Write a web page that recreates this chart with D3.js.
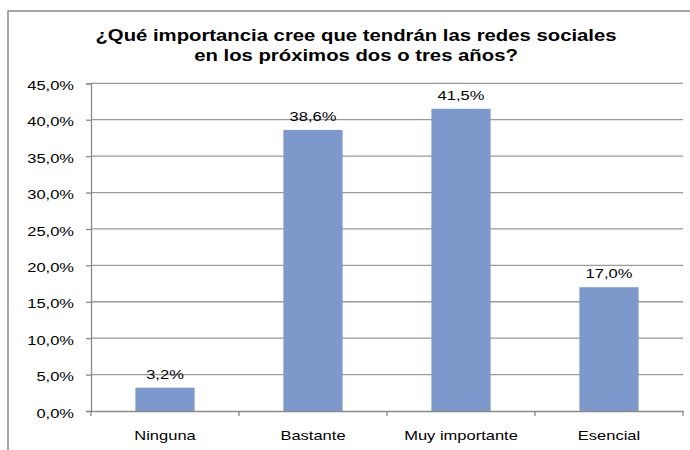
<!DOCTYPE html>
<html>
<head>
<meta charset="utf-8">
<script src="https://cdn.jsdelivr.net/npm/d3@7"></script>
<style>
  html, body { margin: 0; padding: 0; background: #fff; }
  svg { display: block; }
  text { font-family: "Liberation Sans", Arial, sans-serif; fill: #000; }
</style>
</head>
<body>
<svg id="chart" width="690" height="450"></svg>
<script>
// Survey answers and their shares (%)
const categories = ["Ninguna", "Bastante", "Muy importante", "Esencial"];
const values = [3.2, 38.6, 41.5, 17.0];
const yTicks = [0, 5, 10, 15, 20, 25, 30, 35, 40, 45];
const titleLines = [
  "¿Qué importancia cree que tendrán las redes sociales",
  "en los próximos dos o tres años?"
];

const W = 690, H = 450;
const plot = { left: 91, right: 683, top: 83.3, bottom: 411 };
const stretch = 1.27; // glyphs are drawn a little wider than tall
const fmt = v => v.toFixed(1).replace(".", ",") + "%";

const svg = d3.select("#chart");

// outer frame
svg.append("rect")
  .attr("x", 8).attr("y", 11)
  .attr("width", W).attr("height", H)
  .attr("fill", "#fff")
  .attr("stroke", "#8a8a8a").attr("stroke-width", 1.5);

const x = d3.scaleBand().domain(categories)
  .range([plot.left, plot.right]).paddingInner(0).paddingOuter(0);
const y = d3.scaleLinear().domain([0, 45]).range([plot.bottom, plot.top]);

// helper for horizontally stretched labels
function label(g, tx, ty, str, anchor, size, weight) {
  return g.append("text")
    .attr("transform", `translate(${tx},${ty}) scale(${stretch},1)`)
    .attr("text-anchor", anchor)
    .attr("font-size", size)
    .attr("font-weight", weight || "normal")
    .text(str);
}

// gridlines
svg.append("g").selectAll("line")
  .data(yTicks.filter(t => t > 0))
  .join("line")
  .attr("x1", plot.left).attr("x2", plot.right)
  .attr("y1", d => y(d)).attr("y2", d => y(d))
  .attr("stroke", "#9a9a9a").attr("stroke-width", 1.3);

// y axis
const yAxis = svg.append("g")
  .attr("transform", `translate(${plot.left},0)`)
  .call(d3.axisLeft(y).tickValues(yTicks).tickSize(5).tickFormat(""));
yAxis.selectAll("path, line").attr("stroke", "#8a8a8a").attr("stroke-width", 1.3);
const yLab = svg.append("g");
yTicks.forEach(t => label(yLab, 74, y(t) + 6.7, fmt(t), "end", 13));

// bars
const barW = x.bandwidth() * 0.4;
svg.append("g").selectAll("rect")
  .data(values)
  .join("rect")
  .attr("x", (d, i) => x(categories[i]) + (x.bandwidth() - barW) / 2)
  .attr("width", barW)
  .attr("y", d => y(d))
  .attr("height", d => y(0) - y(d))
  .attr("fill", "#7d98cb");

// x axis
const xAxis = svg.append("g")
  .attr("transform", `translate(0,${plot.bottom})`)
  .call(d3.axisBottom(x).tickSize(0).tickFormat(""));
xAxis.select("path").attr("stroke", "#8a8a8a").attr("stroke-width", 1.3);
svg.append("g").selectAll("line")
  .data(categories.map(c => x(c)).concat([plot.right]))
  .join("line")
  .attr("x1", d => d).attr("x2", d => d)
  .attr("y1", plot.bottom).attr("y2", plot.bottom + 5)
  .attr("stroke", "#8a8a8a").attr("stroke-width", 1.3);

// category labels
const xLab = svg.append("g");
categories.forEach(c => label(xLab, x(c) + x.bandwidth() / 2, 440, c, "middle", 13));

// value labels
const vLab = svg.append("g");
values.forEach((v, i) =>
  label(vLab, x(categories[i]) + x.bandwidth() / 2, y(v) - 9, fmt(v), "middle", 13));

// title
const tLab = svg.append("g");
titleLines.forEach((t, i) => label(tLab, 356, 41 + i * 20, t, "middle", 16, "bold"));
</script>
</body>
</html>
